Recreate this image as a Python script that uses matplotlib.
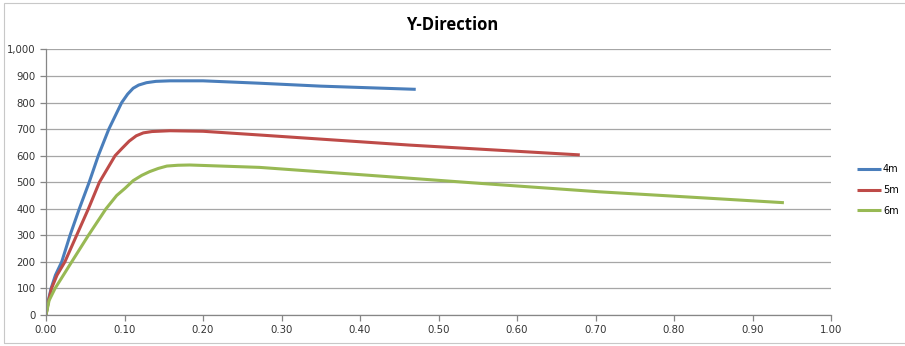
import matplotlib.pyplot as plt
from matplotlib.patches import Rectangle
from matplotlib.ticker import FuncFormatter

# Data
x_4m = [0, 0.003, 0.0065, 0.012, 0.020, 0.0306, 0.0424, 0.055, 0.0666, 0.080, 0.0964, 0.104, 0.111,
        0.118, 0.128, 0.140, 0.158, 0.20, 0.272, 0.35, 0.471]
y_4m = [0, 55, 100, 150, 200, 300, 400, 500, 600, 700, 800, 832, 854,
        866, 875, 880, 882, 882, 873, 862, 850]

x_5m = [0, 0.003, 0.007, 0.014, 0.024, 0.039, 0.054, 0.068, 0.088, 0.097, 0.106, 0.115,
        0.124, 0.135, 0.158, 0.20, 0.272, 0.463, 0.680]
y_5m = [0, 50, 100, 150, 200, 300, 400, 500, 600, 628, 655, 675,
        686, 691, 694, 692, 678, 640, 603]

x_6m = [0, 0.004, 0.0115, 0.020, 0.0327, 0.054, 0.0764, 0.090, 0.1006, 0.111, 0.122, 0.132, 0.143,
        0.154, 0.168, 0.183, 0.272, 0.450, 0.552, 0.705, 0.832, 0.940]
y_6m = [0, 55, 100, 140, 200, 300, 400, 450, 477, 506, 526, 540, 552,
        561, 564, 565, 556, 518, 496, 464, 442, 423]

series = [("4m", x_4m, y_4m, "#4A7EBB"),
          ("5m", x_5m, y_5m, "#BE4B48"),
          ("6m", x_6m, y_6m, "#98B954")]

fig = plt.figure(figsize=(9.05, 3.46), dpi=100)
ax = fig.add_axes([46 / 905, 1 - 315 / 346, 785 / 905, 265.5 / 346])

for name, xs, ys, color in series:
    ax.plot(xs, ys, color=color, lw=2.2, label=name, solid_capstyle="butt", solid_joinstyle="round")

ax.set_xlim(0, 1.0)
ax.set_ylim(0, 1000)
ax.set_xticks([i / 10 for i in range(11)])
ax.set_yticks(range(0, 1001, 100))
ax.xaxis.set_major_formatter(FuncFormatter(lambda v, p: f"{v:.2f}"))
ax.yaxis.set_major_formatter(FuncFormatter(lambda v, p: f"{int(v):,}"))
ax.grid(axis="y", color="#A6A6A6", lw=0.9)
ax.set_axisbelow(True)
for s in ["top", "right"]:
    ax.spines[s].set_visible(False)
for s in ["left", "bottom"]:
    ax.spines[s].set_color("#868686")
    ax.spines[s].set_linewidth(0.9)
ax.tick_params(colors="#868686", labelcolor="#333333", labelsize=7.3, length=4, width=0.9,
               direction="out")

fig.suptitle("Y-Direction", y=1 - 25 / 346, va="center", fontsize=12, fontweight="bold",
             family="Open Sans")

fig.legend(loc="center left", bbox_to_anchor=(848 / 905, 1 - 190 / 346), frameon=False,
           fontsize=7, handlelength=2.5, handletextpad=0.2, labelspacing=1.1)

# light gray outline around the chart area
fig.add_artist(Rectangle((4 / 905, 3 / 346), 1.0, 340 / 346, transform=fig.transFigure,
                         fill=False, edgecolor="#C8C8C8", lw=0.8))

fig.savefig("out.png", dpi=100)
